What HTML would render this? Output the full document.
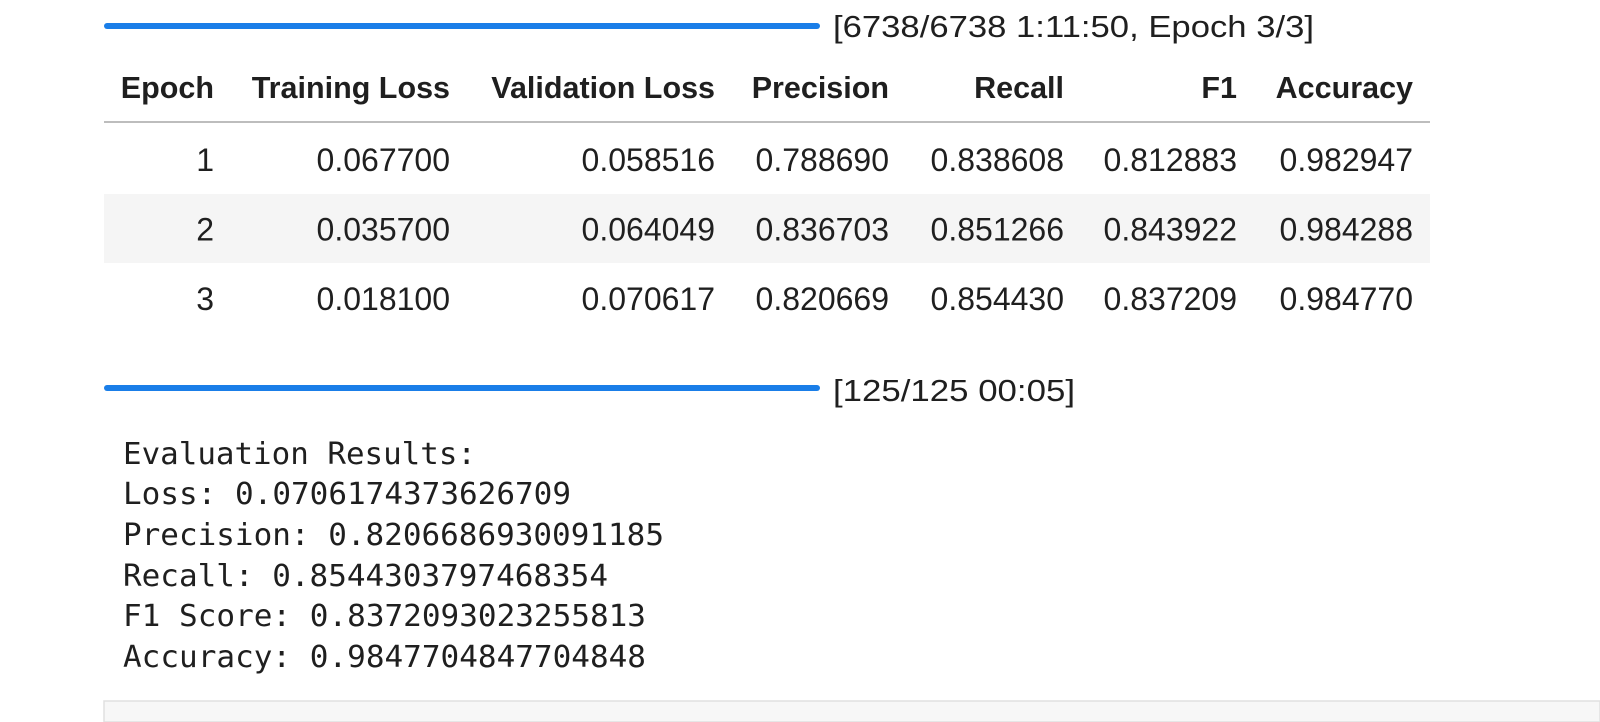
<!DOCTYPE html>
<html><head><meta charset="utf-8"><style>
html,body{margin:0;padding:0;background:#fff;width:1600px;height:722px;overflow:hidden}
svg{display:block}
.h{font-family:"Liberation Sans",sans-serif;font-weight:bold;font-size:30.5px;fill:#1f1f1f}
.c{font-family:"Liberation Sans",sans-serif;font-size:32px;fill:#1f1f1f}
.p{font-family:"Liberation Sans",sans-serif;font-size:31px;fill:#1f1f1f}
.m{font-family:"DejaVu Sans Mono","Liberation Mono",monospace;font-size:30px;fill:#1f1f1f}
</style></head><body>
<svg width="1600" height="722">
<rect x="104" y="23" width="716" height="6" rx="3" fill="#1a7ee8"/>
<text class="p" x="833" y="37" textLength="481" lengthAdjust="spacingAndGlyphs">[6738/6738 1:11:50, Epoch 3/3]</text>
<g id="tbl">
<rect x="104" y="194" width="1326" height="69" fill="#f5f5f5"/>
<line x1="104" y1="122" x2="1430" y2="122" stroke="#bdbdbd" stroke-width="2"/>
</g>
<rect x="104" y="385" width="716" height="6" rx="3" fill="#1a7ee8"/>
<text class="p" x="833" y="401" textLength="242" lengthAdjust="spacingAndGlyphs">[125/125 00:05]</text>
<g>
<text class="m" x="123" y="464" textLength="353" lengthAdjust="spacingAndGlyphs">Evaluation Results:</text>
<text class="m" x="123" y="504" textLength="448" lengthAdjust="spacingAndGlyphs">Loss: 0.0706174373626709</text>
<text class="m" x="123" y="545" textLength="541" lengthAdjust="spacingAndGlyphs">Precision: 0.8206686930091185</text>
<text class="m" x="123" y="586" textLength="485" lengthAdjust="spacingAndGlyphs">Recall: 0.8544303797468354</text>
<text class="m" x="123" y="626" textLength="523" lengthAdjust="spacingAndGlyphs">F1 Score: 0.8372093023255813</text>
<text class="m" x="123" y="667" textLength="523" lengthAdjust="spacingAndGlyphs">Accuracy: 0.9847704847704848</text>
</g>
<rect x="104" y="701" width="1496" height="21" fill="#f7f7f7" stroke="#e0e0e0" stroke-width="1.5"/>
</svg>
<script>
const headers=["Epoch","Training Loss","Validation Loss","Precision","Recall","F1","Accuracy"];
const epochs=["1","2","3"];
const trainLoss=["0.067700","0.035700","0.018100"];
const valLoss=["0.058516","0.064049","0.070617"];
const precision=["0.788690","0.836703","0.820669"];
const recall=["0.838608","0.851266","0.854430"];
const f1=["0.812883","0.843922","0.837209"];
const accuracy=["0.982947","0.984288","0.984770"];
const cols=[epochs,trainLoss,valLoss,precision,recall,f1,accuracy];
const rightEdges=[214,450,715,889,1064,1237,1413];
const NS="http://www.w3.org/2000/svg";
const g=document.getElementById('tbl');
headers.forEach((h,i)=>{
  const t=document.createElementNS(NS,'text');
  t.setAttribute('class','h');t.setAttribute('x',rightEdges[i]);t.setAttribute('y',98);
  t.setAttribute('text-anchor','end');t.textContent=h;
  
  
  g.appendChild(t);
});
cols.forEach((col,i)=>{
  col.forEach((v,r)=>{
    const t=document.createElementNS(NS,'text');
    t.setAttribute('class','c');t.setAttribute('x',rightEdges[i]);t.setAttribute('y',171+r*69.5);
    t.setAttribute('text-anchor','end');t.textContent=v;
    
    
    g.appendChild(t);
  });
});
</script>
</body></html>
